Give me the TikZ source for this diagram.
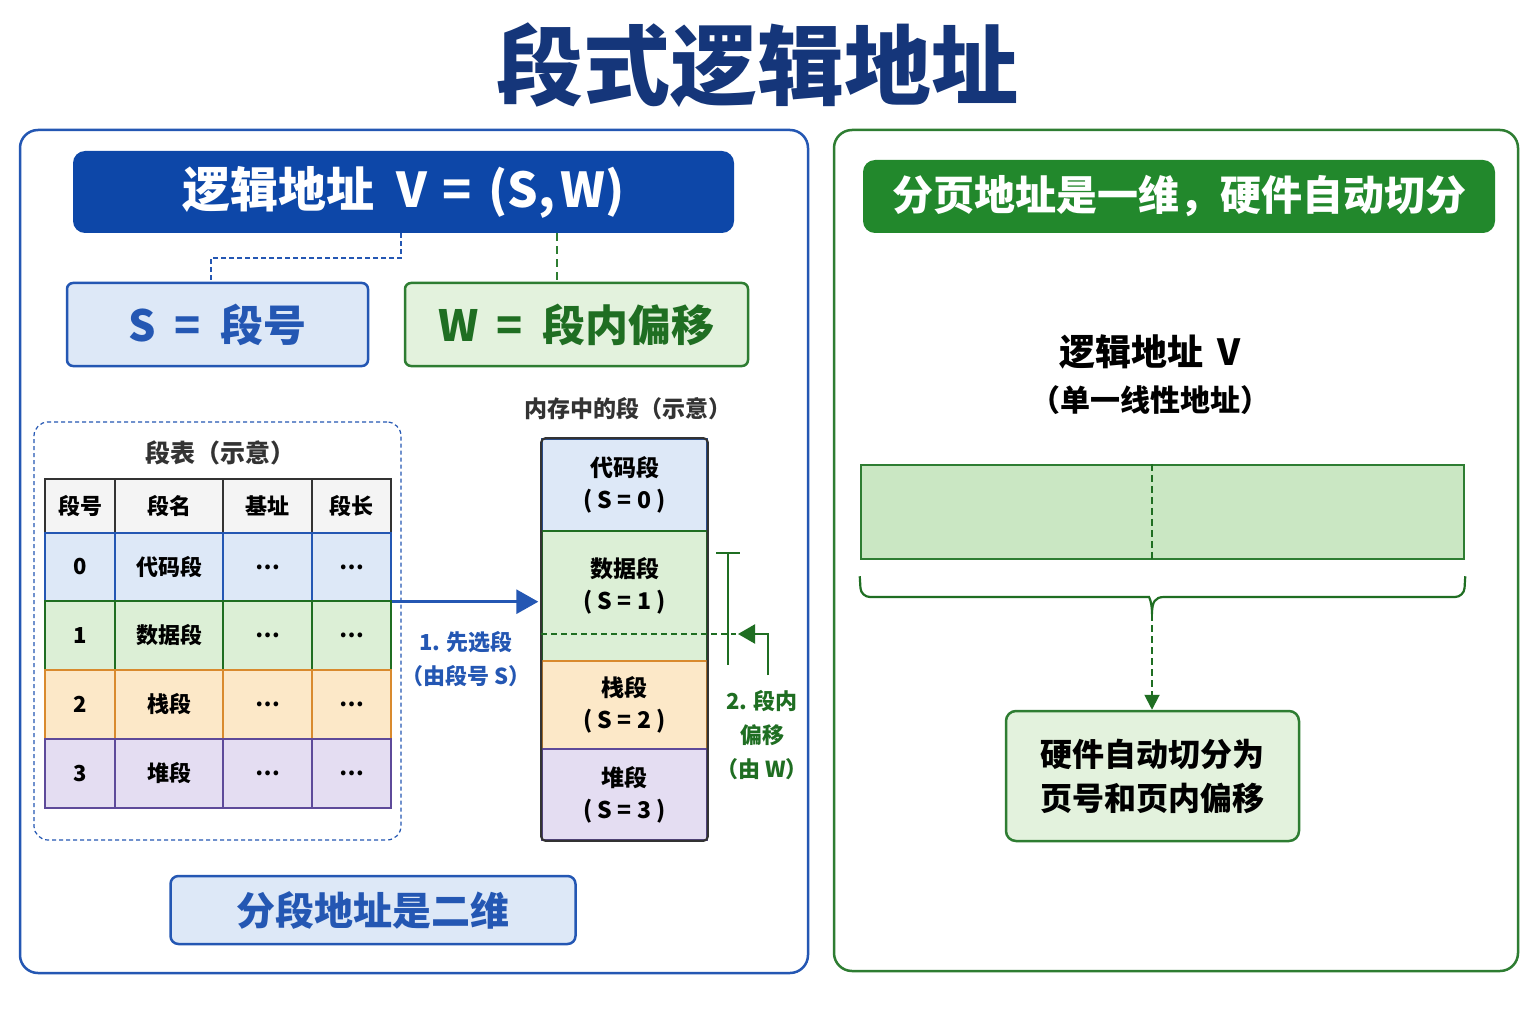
\documentclass[tikz,border=0pt]{standalone}
\usepackage{fontspec}
\setmainfont{Noto Sans CJK SC}
\usetikzlibrary{arrows.meta,positioning,calc}
\definecolor{navy}{HTML}{15367A}
\definecolor{segblue}{HTML}{0D47A8}
\definecolor{lineblue}{HTML}{2457B3}
\definecolor{paleblue}{HTML}{DDE8F7}
\definecolor{deepgreen}{HTML}{1F6E22}
\definecolor{hdrgreen}{HTML}{22882C}
\definecolor{linegreen}{HTML}{2E7D32}
\definecolor{palegreen}{HTML}{E3F2DD}
\definecolor{bargreen}{HTML}{CAE7C3}
\definecolor{rowgreen}{HTML}{DCEFD6}
\definecolor{roworange}{HTML}{FCE8C8}
\definecolor{lineorange}{HTML}{D98A2E}
\definecolor{rowpurple}{HTML}{E4DDF2}
\definecolor{linepurple}{HTML}{5E4A9A}
\definecolor{headgray}{HTML}{F4F4F4}
\definecolor{inkgray}{HTML}{333333}
\newcommand{\fsz}[2]{\fontsize{#1}{#2}\selectfont}

\begin{document}
\begin{tikzpicture}[x=1pt, y=-1pt,
  panel/.style={draw, rounded corners=18pt, line width=2.5pt, minimum width=#1},
  hdr/.style={rounded corners=12pt, text=white, inner sep=0pt},
  keybox/.style={draw, rounded corners=6pt, line width=2.5pt, inner sep=0pt,
                 font=\bfseries\fsz{43}{46}},
  cell/.style={draw, line width=1.4pt, inner sep=0pt, font=\bfseries\fsz{22}{26}},
  memseg/.style={draw, line width=1.4pt, minimum width=165pt, align=center,
                 inner sep=0pt, font=\bfseries\fsz{23}{32}},
  lbl/.style={inner sep=0pt, align=center, font=\bfseries\fsz{22}{34}}
]
  \useasboundingbox[fill=white] (0,0) rectangle (1536,1024);

  \node[inner sep=0pt, text=navy, font=\bfseries\fsz{87}{90}] (title) at (757,65) {段式逻辑地址};

  % left: segmentation
  \node[panel=788pt, draw=lineblue, minimum height=843pt] (lpanel) at (414,551.5) {};
  \node[hdr, fill=segblue, minimum width=661pt, minimum height=82pt,
        font=\bfseries\fsz{48}{50}] (vhdr) at (403.5,192)
        {逻辑地址\hspace{22pt}V\hspace{16pt}=\hspace{16pt}(S,\hspace{6pt}W)};
  \node[keybox, draw=lineblue, fill=paleblue, text=lineblue,
        minimum width=301pt, minimum height=83pt] (sbox) at (217.5,324.5)
        {S\hspace{18pt}=\hspace{20pt}段号};
  \node[keybox, draw=linegreen, fill=palegreen, text=deepgreen,
        minimum width=343pt, minimum height=83pt] (wbox) at (576.5,324.5)
        {W\hspace{18pt}=\hspace{20pt}段内偏移};
  \draw[lineblue, line width=2pt, dash pattern=on 5pt off 3pt]
    ([xshift=-2.5pt]vhdr.south) -- ++(0,25) -| ([xshift=-6.5pt]sbox.north);
  \draw[linegreen, line width=2pt, dash pattern=on 8pt off 5pt]
    ([xshift=-19.5pt]wbox.north |- vhdr.south) -- ([xshift=-19.5pt]wbox.north);

  \node[draw=lineblue, line width=1.2pt, dash pattern=on 4pt off 3pt, rounded corners=14pt,
        minimum width=367pt, minimum height=418pt] (tabframe) at (217.5,631) {};
  \node[inner sep=0pt, font=\bfseries\fsz{25}{28}, text=inkgray] (tabtitle) at (220,453) {段表（示意）};

  \node[cell, fill=headgray, draw=inkgray, minimum width=70pt, minimum height=54pt] (h-1) at (80,506) {段号};
  \node[cell, fill=headgray, draw=inkgray, minimum width=108pt, minimum height=54pt] (h-2) at (169,506) {段名};
  \node[cell, fill=headgray, draw=inkgray, minimum width=89pt, minimum height=54pt] (h-3) at (267.5,506) {基址};
  \node[cell, fill=headgray, draw=inkgray, minimum width=79pt, minimum height=54pt] (h-4) at (351.5,506) {段长};
  \foreach \r/\y/\h/\fc/\dc/\segname in {0/567/68/paleblue/lineblue/代码段,
      1/635.5/69/rowgreen/deepgreen/数据段, 2/704.5/69/roworange/lineorange/栈段,
      3/773.5/69/rowpurple/linepurple/堆段}
  {
    \node[cell, fill=\fc, draw=\dc, minimum width=70pt, minimum height=\h pt] (c-\r-1) at (80,\y) {\r};
    \node[cell, fill=\fc, draw=\dc, minimum width=108pt, minimum height=\h pt] (c-\r-2) at (169,\y) {\segname};
    \node[cell, fill=\fc, draw=\dc, minimum width=89pt, minimum height=\h pt] (c-\r-3) at (267.5,\y) {…};
    \node[cell, fill=\fc, draw=\dc, minimum width=79pt, minimum height=\h pt] (c-\r-4) at (351.5,\y) {…};
  }

  \node[inner sep=0pt, font=\bfseries\fsz{23}{26}, text=inkgray] (memtitle) at (628,409) {内存中的段（示意）};
  \node[memseg, fill=paleblue, draw=lineblue, minimum height=92pt] (mem0) at (624.5,485) {代码段\\( S = 0 )};
  \node[memseg, fill=rowgreen, draw=deepgreen, minimum height=130pt] (mem1) at (624.5,596) {};
  \node[memseg, draw=none] (mem1text) at (624.5,586) {数据段\\( S = 1 )};
  \node[memseg, fill=roworange, draw=lineorange, minimum height=88pt] (mem2) at (624.5,705) {栈段\\( S = 2 )};
  \node[memseg, fill=rowpurple, draw=linepurple, minimum height=91pt] (mem3) at (624.5,794.5) {堆段\\( S = 3 )};
  \draw[inkgray, line width=2.2pt, rounded corners=4pt] (mem0.north west) rectangle (mem3.south east);

  \draw[lineblue, line width=3pt, -{Triangle[length=22pt,width=24pt]}]
    (c-0-4.south east) -- ([xshift=-3pt]mem1.west |- c-0-4.south east);
  \node[lbl, text=lineblue] (step1) at (466,659) {1. 先选段\\（由段号 S）};

  \coordinate (wtip) at (728,634);
  \coordinate (wcap) at (728,553);
  \coordinate (wend) at (728,665);
  \coordinate (wfrom) at (768,675);
  \draw[deepgreen, line width=2pt, dash pattern=on 6pt off 4pt] (mem1.west |- wtip) -- ([xshift=8pt]wtip);
  \draw[deepgreen, line width=2.2pt] (wcap) -- (wend);
  \draw[deepgreen, line width=2.2pt] ([xshift=-12pt]wcap) -- ([xshift=12pt]wcap);
  \draw[deepgreen, line width=2.2pt, -{Triangle[length=17pt,width=19pt]}]
    (wfrom) |- ([xshift=10pt]wtip);
  \node[lbl, text=deepgreen] (step2) at (762,735) {2. 段内\\偏移\\（由 W）};

  \node[draw=lineblue, fill=paleblue, text=lineblue, line width=2.5pt, rounded corners=8pt,
        minimum width=405pt, minimum height=68pt, inner sep=0pt,
        font=\bfseries\fsz{39}{40}] (twodim) at (373,910) {分段地址是二维};

  % right: paging
  \node[panel=684pt, draw=linegreen, minimum height=841pt] (rpanel) at (1176,550.5) {};
  \node[hdr, fill=hdrgreen, minimum width=632pt, minimum height=73pt,
        font=\bfseries\fsz{41}{44}] (phdr) at (1179,196.5) {分页地址是一维，硬件自动切分};
  \node[inner sep=0pt, font=\bfseries\fsz{36}{40}] (vname) at (1150,352) {逻辑地址\hspace{14pt}V};
  \node[inner sep=0pt, font=\bfseries\fsz{30}{32}] (vnote) at (1150,400) {（单一线性地址）};
  \node[draw=linegreen, fill=bargreen, line width=2.5pt, minimum width=603pt,
        minimum height=94pt, inner sep=0pt] (vbar) at (1162.5,512) {};
  \draw[deepgreen, line width=1.6pt, dash pattern=on 7pt off 4pt]
    ([xshift=-10.5pt]vbar.north) -- ([xshift=-10.5pt]vbar.south);
  \coordinate (bracetip) at (1152,614);
  \draw[deepgreen, line width=2.2pt, rounded corners=9pt]
    ([yshift=-16pt]vbar.south west) -- (861,597) -- (1140,597) [sharp corners]
    .. controls (1149,597) and (1152,602) .. (bracetip)
    .. controls (1152,602) and (1155,597) .. (1164,597) [rounded corners=9pt] -- (1464,597)
    -- ([yshift=-16pt]vbar.south east);
  \node[draw=linegreen, fill=palegreen, line width=2.5pt, rounded corners=10pt,
        minimum width=293pt, minimum height=130pt, inner sep=0pt, align=center,
        font=\bfseries\fsz{32}{44}] (hwbox) at (1152.5,776) {硬件自动切分为\\页号和页内偏移};
  \draw[deepgreen, line width=2pt, dash pattern=on 7pt off 4pt,
        -{Triangle[length=15pt,width=15pt]}] (bracetip) -- (hwbox.north -| bracetip);
\end{tikzpicture}
\end{document}
